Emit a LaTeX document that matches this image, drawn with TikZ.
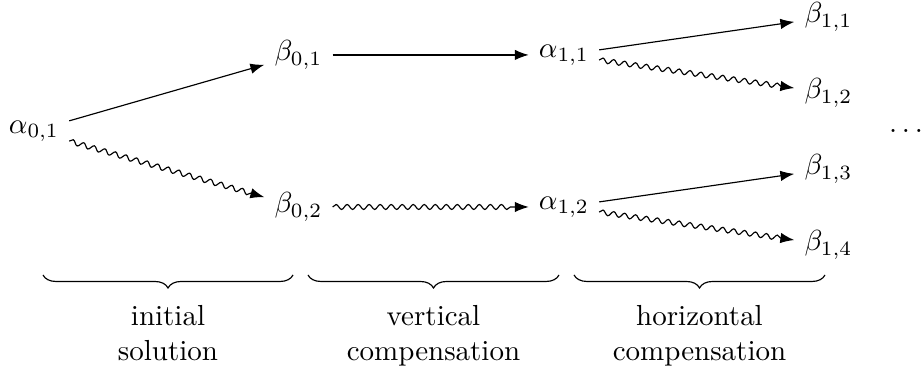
\documentclass[tikz,border=0pt]{standalone}
\usepackage{amsmath, amssymb}
\usetikzlibrary{arrows.meta, positioning, decorations.pathmorphing, decorations.pathreplacing}

\begin{document}
\begin{tikzpicture}[
    arr/.style={-{Latex}},
    wavy/.style={-{Latex}, decorate,
                 decoration={snake, amplitude=.85pt, segment length=3.8pt, post length=1.6mm}},
    brc/.style={decorate, decoration={brace, mirror, amplitude=4.5pt}},
    lab/.style={align=center, below=7pt}
  ]
    \useasboundingbox (0,0) rectangle (11.2,4.533);
    \node (a01) at (0.412,2.945) {$\alpha_{0,1}$};
    \node (b01) at (3.618,3.867) {$\beta_{0,1}$};
    \node (b02) at (3.618,2.024) {$\beta_{0,2}$};
    \node (a11) at (6.836,3.867) {$\alpha_{1,1}$};
    \node (a12) at (6.836,2.024) {$\alpha_{1,2}$};
    \node (b11) at (10.042,4.327) {$\beta_{1,1}$};
    \node (b12) at (10.042,3.406) {$\beta_{1,2}$};
    \node (b13) at (10.042,2.485) {$\beta_{1,3}$};
    \node (b14) at (10.042,1.564) {$\beta_{1,4}$};
    \node (dots) at (10.982,2.945) {$\ldots$};
    \draw[arr] (a01) -- (b01);
    \draw[wavy] (a01) -- (b02);
    \draw[arr] (b01) -- (a11);
    \draw[wavy] (b02) -- (a12);
    \draw[arr] (a11) -- (b11);
    \draw[wavy] (a11) -- (b12);
    \draw[arr] (a12) -- (b13);
    \draw[wavy] (a12) -- (b14);
    \coordinate (s1) at (0.521,1.2);
    \coordinate (e1) at (3.552,1.2);
    \coordinate (s2) at (3.733,1.2);
    \coordinate (e2) at (6.776,1.2);
    \coordinate (s3) at (6.958,1.2);
    \coordinate (e3) at (10.0,1.2);
    \draw[brc] (s1) -- (e1) node[midway, lab] (init) {initial\\solution};
    \draw[brc] (s2) -- (e2) node[midway, lab] (vert) {vertical\\compensation};
    \draw[brc] (s3) -- (e3) node[midway, lab] (horiz) {horizontal\\compensation};
  \end{tikzpicture}
\end{document}
